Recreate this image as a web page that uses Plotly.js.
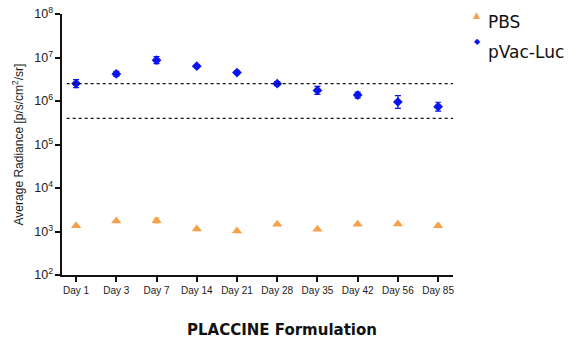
<!DOCTYPE html>
<html><head><meta charset="utf-8">
<script src="https://cdn.plot.ly/plotly-3.0.1.min.js"></script>
<style>html,body{margin:0;padding:0;background:#fff}#c{width:577px;height:345px}</style>
</head><body><div id="c"></div>
<script>
const days = ['Day 1','Day 3','Day 7','Day 14','Day 21','Day 28','Day 35','Day 42','Day 56','Day 85'];
const pbs = [1360,1740,1770,1140,1030,1470,1120,1465,1485,1360];
const pbsErrPlus = [0,0,250,0,0,0,0,0,0,0];
const pbsErrMinus = [0,0,200,0,0,0,0,0,0,0];
const pvac = [2.52e6,4.2e6,8.7e6,6.3e6,4.5e6,2.5e6,1.75e6,1.37e6,0.95e6,0.74e6];
const pvacErrPlus = [0.59e6,0.59e6,1.74e6,0.5e6,0.36e6,0.275e6,0.41e6,0.23e6,0.385e6,0.196e6];
const pvacErrMinus = [0.48e6,0.52e6,1.45e6,0.47e6,0.33e6,0.25e6,0.33e6,0.2e6,0.27e6,0.155e6];
const refLines = [2.5e6, 4.0e5];
const yTitle = 'Average Radiance [p/s/cm<sup>2</sup>/sr]';
const xTitle = 'PLACCINE Formulation';
const seriesNames = ['PBS','pVac-Luc'];
const orange = '#f5a14c', blue = '#0a14f0';

const traces = [
  {x: days, y: pbs, type:'scatter', mode:'markers', name: seriesNames[0],
   marker:{symbol:'triangle-up', size:9, color:orange},
   error_y:{type:'data', symmetric:false, array:pbsErrPlus, arrayminus:pbsErrMinus, color:orange, thickness:1, width:3}},
  {x: days, y: pvac, type:'scatter', mode:'markers', name: seriesNames[1],
   marker:{symbol:'diamond', size:7.5, color:blue},
   error_y:{type:'data', symmetric:false, array:pvacErrPlus, arrayminus:pvacErrMinus, color:blue, thickness:1.2, width:3}}
];

const shapes = refLines.map(v => ({type:'line', xref:'paper', yref:'y', x0:0.012, x1:1, y0:v, y1:v,
  line:{color:'#111', width:1.2, dash:'dot'}}));

const layout = {
  width:577, height:345,
  margin:{l:62, r:124, t:14, b:70},
  paper_bgcolor:'#fff', plot_bgcolor:'#fff',
  showlegend:false,
  font:{family:'Liberation Sans, Arial, sans-serif', color:'#222'},
  xaxis:{type:'category', range:[-0.35, 9.37], showline:true, linecolor:'#111', linewidth:2,
    ticks:'outside', ticklen:5, tickwidth:1.5, tickcolor:'#111', showgrid:false, zeroline:false,
    tickfont:{size:10, color:'#1a1a1a'}, fixedrange:true},
  yaxis:{type:'log', range:[2,8], dtick:1, exponentformat:'power', showline:true, linecolor:'#111', linewidth:2,
    ticks:'outside', ticklen:5, tickwidth:1.5, tickcolor:'#111', showgrid:false, zeroline:false,
    tickfont:{size:10, color:'#222'},
    title:{text:yTitle, font:{size:12, color:'#1a1a1a'}, standoff:8}},
  shapes: shapes,
  annotations:[
    {xref:'paper', yref:'paper', x:(282-62)/391, y:-0.21, xanchor:'center', yanchor:'middle', showarrow:false,
     text:'<b>'+xTitle+'</b>', font:{family:'DejaVu Sans, sans-serif', size:15, color:'#111'}},
    {xref:'paper', yref:'paper', x:(486-62)/391, y:(275-22)/261, xanchor:'left', yanchor:'middle', showarrow:false,
     text:seriesNames[0], font:{family:'DejaVu Sans, sans-serif', size:17, color:'#111'}},
    {xref:'paper', yref:'paper', x:(486-62)/391, y:(275-52)/261, xanchor:'left', yanchor:'middle', showarrow:false,
     text:seriesNames[1], font:{family:'DejaVu Sans, sans-serif', size:17, color:'#111'}},
    {xref:'paper', yref:'paper', x:(476-62)/391, y:(275-15)/261, xanchor:'center', yanchor:'middle', showarrow:false,
     text:'▲', font:{family:'DejaVu Sans, sans-serif', size:9, color:orange}},
    {xref:'paper', yref:'paper', x:(477-62)/391, y:(275-41)/261, xanchor:'center', yanchor:'middle', showarrow:false,
     text:'◆', font:{family:'DejaVu Sans, sans-serif', size:8, color:blue}}
  ]
};
Plotly.newPlot('c', traces, layout, {displayModeBar:false});
</script></body></html>
